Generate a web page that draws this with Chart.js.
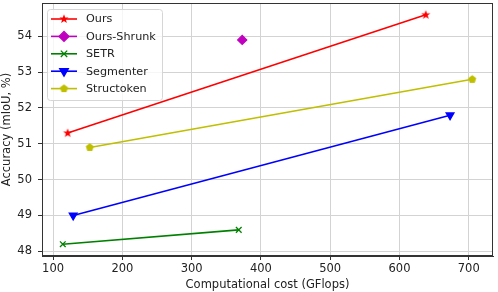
<!DOCTYPE html>
<html>
<head>
<meta charset="utf-8">
<script src="https://cdn.jsdelivr.net/npm/chart.js@4"></script>
<style>
html,body{margin:0;padding:0;background:#fff}
#wrap{width:498px;height:292px}
</style>
</head>
<body>
<div id="wrap"><canvas id="chart" width="498" height="292"></canvas></div>
<script>

/* DATA */

const seriesNames=["Ours","Ours-Shrunk","SETR","Segmenter","Structoken"]

const oursX=[121,638]
const oursY=[51.3,54.6]

const shrunkX=[373]
const shrunkY=[53.9]

const setrX=[114,368]
const setrY=[48.2,48.6]

const segX=[129,673]
const segY=[49.0,51.8]

const structX=[153,705]
const structY=[50.9,52.8]

const xTicks=[100,200,300,400,500,600,700]
const yTicks=[48,49,50,51,52,53,54]


/* MARKERS */

function polyMarker(n,rOut,rIn,color,rot){
const s=Math.ceil(rOut*2+2)
const c=document.createElement("canvas")
c.width=s
c.height=s
const g=c.getContext("2d")
g.fillStyle=color
g.beginPath()
const pts=rIn?n*2:n
for(let i=0;i<pts;i++){
const r=(rIn&&i%2)?rIn:rOut
const a=-Math.PI/2+i*Math.PI*2/pts+(rot||0)
const px=s/2+r*Math.cos(a)
const py=s/2+r*Math.sin(a)
if(i===0) g.moveTo(px,py)
else g.lineTo(px,py)
}
g.closePath()
g.fill()
return c
}

const starImg=polyMarker(5,4.8,2,"#ff0000")
const pentaImg=polyMarker(5,4.2,0,"#bfbf00")

function pts(xs,ys){
return xs.map((x,i)=>({x:x,y:ys[i]}))
}

const styles=[
{color:"#ff0000",data:pts(oursX,oursY),pointStyle:starImg,radius:4,rotation:0,line:true},
{color:"#bf00bf",data:pts(shrunkX,shrunkY),pointStyle:"rectRot",radius:4.5,rotation:0,line:false},
{color:"#008000",data:pts(setrX,setrY),pointStyle:"crossRot",radius:4,rotation:0,line:true},
{color:"#0000ff",data:pts(segX,segY),pointStyle:"triangle",radius:4.5,rotation:180,line:true},
{color:"#bfbf00",data:pts(structX,structY),pointStyle:pentaImg,radius:4,rotation:0,line:true}
]

const datasets=styles.map((s,i)=>({
label:seriesNames[i],
data:s.data,
showLine:s.line,
borderColor:s.color,
backgroundColor:s.color,
borderWidth:1.6,
pointStyle:s.pointStyle,
pointRadius:s.radius,
pointRotation:s.rotation,
pointBorderWidth:1.3,
pointBorderColor:s.color,
pointBackgroundColor:s.color
}))


/* PLUGINS */

const frame={
id:"frame",
afterDraw(chart){
const a=chart.chartArea
const c=chart.ctx
c.save()
c.strokeStyle="#333"
c.lineWidth=1
c.strokeRect(Math.round(a.left)+0.5,Math.round(a.top)+0.5,Math.round(a.right-a.left)-1,Math.round(a.bottom-a.top)-1)
c.restore()
}
}

const innerLegend={
id:"innerLegend",
afterDraw(chart){
const c=chart.ctx
const a=chart.chartArea
const x0=a.left+5
const y0=a.top+6
const w=115
const h=91
c.save()
c.fillStyle="rgba(255,255,255,0.8)"
c.strokeStyle="#d6d6d6"
c.lineWidth=1
c.beginPath()
c.roundRect(x0+0.5,y0+0.5,w,h,3)
c.fill()
c.stroke()
chart.data.datasets.forEach((ds,i)=>{
const y=y0+10+i*17.4
c.strokeStyle=ds.borderColor
c.fillStyle=ds.borderColor
c.lineWidth=1.6
c.beginPath()
c.moveTo(x0+4,y)
c.lineTo(x0+30,y)
c.stroke()
c.lineWidth=ds.pointBorderWidth
Chart.helpers.drawPoint(c,{pointStyle:ds.pointStyle,rotation:ds.pointRotation,radius:ds.pointRadius+0.5,borderWidth:ds.pointBorderWidth},x0+17,y)
c.fillStyle="#222"
c.font="11.2px 'DejaVu Sans'"
c.textBaseline="middle"
c.fillText(ds.label,x0+39,y+0.5)
})
c.restore()
}
}


/* CHART */

const ctx=document.getElementById("chart").getContext("2d")

const axisFont={family:"DejaVu Sans",size:11.5}
const noPad=()=>({left:0,top:0,right:0,bottom:0})

new Chart(ctx,{
type:"scatter",
data:{datasets:datasets},
options:{
responsive:false,
animation:false,
layout:{autoPadding:false,padding:{top:3,right:5,left:0,bottom:0}},
plugins:{legend:{display:false},tooltip:{enabled:false}},
scales:{
x:{
type:"linear",
min:84,
max:735,
afterBuildTicks:s=>{s.ticks=xTicks.map(v=>({value:v}))},
afterFit:s=>{s.height=36;s.getPadding=noPad},
grid:{color:"#d3d3d3",lineWidth:1,tickLength:4,tickColor:"#333"},
border:{color:"#333"},
ticks:{color:"#222",font:axisFont,padding:2,maxRotation:0},
title:{display:true,text:"Computational cost (GFlops)",color:"#222",font:axisFont,padding:{top:0,bottom:0}}
},
y:{
type:"linear",
min:47.87,
max:54.93,
afterBuildTicks:s=>{s.ticks=yTicks.map(v=>({value:v}))},
afterFit:s=>{s.width=42;s.getPadding=noPad},
grid:{color:"#d3d3d3",lineWidth:1,tickLength:4,tickColor:"#333"},
border:{color:"#333"},
ticks:{color:"#222",font:axisFont,padding:6},
title:{display:true,text:"Accuracy (mIoU, %)",color:"#222",font:axisFont,padding:{top:0,bottom:1}}
}
}
},
plugins:[frame,innerLegend]
})

</script>
</body>
</html>
